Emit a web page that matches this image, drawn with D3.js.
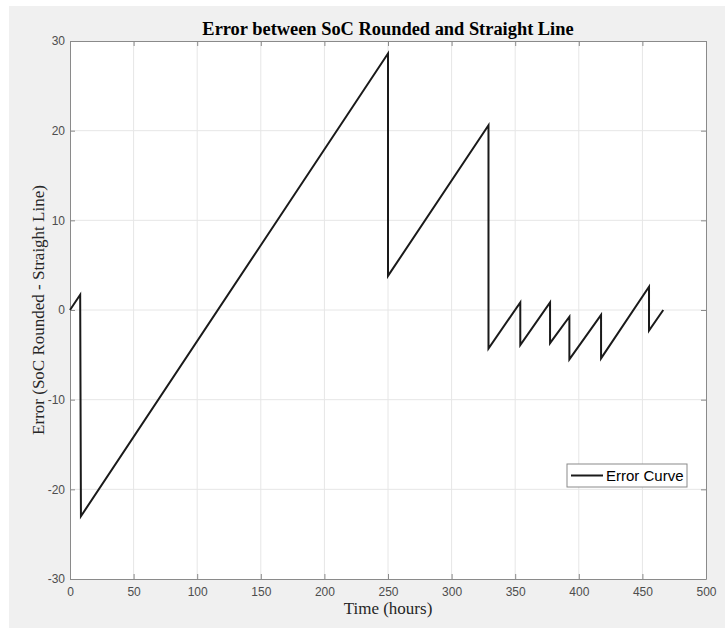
<!DOCTYPE html>
<html>
<head>
<meta charset="utf-8">
<script src="https://cdn.jsdelivr.net/npm/d3@7"></script>
<style>
  body { margin: 0; background: #fff; }
  svg { display: block; }
</style>
</head>
<body>
<svg id="chart"></svg>
<script>
// error curve vertices (time in hours, error)
const timeHours = [0, 8, 8.6, 250, 250, 329, 329, 354, 354, 377.4, 377.4, 392.6, 392.6, 417.5, 417.5, 455.2, 455.2, 466.4];
const errorVals = [0, 1.7, -23, 28.6, 3.8, 20.6, -4.3, 0.85, -3.9, 0.85, -3.7, -0.75, -5.5, -0.55, -5.4, 2.6, -2.3, 0];
const xTicks = [0, 50, 100, 150, 200, 250, 300, 350, 400, 450, 500];
const yTicks = [-30, -20, -10, 0, 10, 20, 30];

const points = timeHours.map((t, i) => ({ t: t, v: errorVals[i] }));

const w = 725, h = 629;
const margin = { top: 41, right: 19, bottom: 50, left: 70 };

const svg = d3.select("#chart").attr("width", w).attr("height", h);

// figure background
svg.append("rect")
    .attr("x", 9).attr("y", 6)
    .attr("width", w - 9).attr("height", 622)
    .attr("fill", "#f0f0f0");

const xScale = d3.scaleLinear().domain([0, 500]).range([margin.left, w - margin.right]);
const yScale = d3.scaleLinear().domain([-30, 30]).range([h - margin.bottom, margin.top]);

const plotW = xScale(500) - xScale(0);
const plotH = yScale(-30) - yScale(30);

svg.append("rect")
    .attr("x", xScale(0)).attr("y", yScale(30))
    .attr("width", plotW).attr("height", plotH)
    .attr("fill", "#fff");

// grid
const grid = svg.append("g");
grid.selectAll("line.gx")
    .data(xTicks.slice(1, -1))
    .join("line")
    .attr("x1", d => xScale(d)).attr("x2", d => xScale(d))
    .attr("y1", yScale(30)).attr("y2", yScale(-30))
    .attr("stroke", "#e6e6e6").attr("stroke-width", 1);
grid.selectAll("line.gy")
    .data(yTicks.slice(1, -1))
    .join("line")
    .attr("y1", d => yScale(d)).attr("y2", d => yScale(d))
    .attr("x1", xScale(0)).attr("x2", xScale(500))
    .attr("stroke", "#e6e6e6").attr("stroke-width", 1);

// axes (plain hyphen minus like the original)
const fmt = d => String(d);
const tickStyle = g => g
    .call(g => g.select(".domain").attr("stroke", "#8a8a8a"))
    .call(g => g.selectAll(".tick line").attr("stroke", "#8a8a8a"))
    .call(g => g.selectAll(".tick text")
        .attr("fill", "#4d4d4d")
        .style("font-family", "'Liberation Sans', Arial, sans-serif")
        .style("font-size", "12px"));

svg.append("g")
    .attr("transform", `translate(0,${yScale(-30)})`)
    .call(d3.axisBottom(xScale).tickValues(xTicks).tickSizeInner(-5).tickSizeOuter(0).tickPadding(8).tickFormat(fmt))
    .call(tickStyle);

svg.append("g")
    .attr("transform", `translate(0,${yScale(30)})`)
    .call(d3.axisTop(xScale).tickValues(xTicks).tickSizeInner(-5).tickSizeOuter(0).tickFormat(""))
    .call(tickStyle);

svg.append("g")
    .attr("transform", `translate(${xScale(0)},0)`)
    .call(d3.axisLeft(yScale).tickValues(yTicks).tickSizeInner(-5).tickSizeOuter(0).tickPadding(5).tickFormat(fmt))
    .call(tickStyle);

svg.append("g")
    .attr("transform", `translate(${xScale(500)},0)`)
    .call(d3.axisRight(yScale).tickValues(yTicks).tickSizeInner(-5).tickSizeOuter(0).tickFormat(""))
    .call(tickStyle);

// curve
const line = d3.line()
    .x(d => xScale(d.t))
    .y(d => yScale(d.v));

svg.append("path")
    .datum(points)
    .attr("d", line)
    .attr("fill", "none")
    .attr("stroke", "#1a1a1a")
    .attr("stroke-width", 2)
    .attr("stroke-linejoin", "miter");

// title and labels
svg.append("text")
    .attr("x", (xScale(0) + xScale(500)) / 2)
    .attr("y", 35)
    .attr("text-anchor", "middle")
    .style("font-family", "'Liberation Serif', 'Times New Roman', serif")
    .style("font-weight", "bold")
    .style("font-size", "18.4px")
    .attr("fill", "#000")
    .text("Error between SoC Rounded and Straight Line");

svg.append("text")
    .attr("x", (xScale(0) + xScale(500)) / 2)
    .attr("y", 614)
    .attr("text-anchor", "middle")
    .style("font-family", "'Liberation Serif', 'Times New Roman', serif")
    .style("font-size", "17px")
    .attr("fill", "#262626")
    .text("Time (hours)");

svg.append("text")
    .attr("transform", `translate(44,${(yScale(30) + yScale(-30)) / 2}) rotate(-90)`)
    .attr("text-anchor", "middle")
    .style("font-family", "'Liberation Serif', 'Times New Roman', serif")
    .style("font-size", "17px")
    .attr("fill", "#262626")
    .text("Error (SoC Rounded - Straight Line)");

// legend
const legend = svg.append("g").attr("transform", "translate(567,464)");
legend.append("rect")
    .attr("width", 120).attr("height", 23)
    .attr("fill", "#fff")
    .attr("stroke", "#8a8a8a");
legend.append("line")
    .attr("x1", 4).attr("x2", 36)
    .attr("y1", 11.5).attr("y2", 11.5)
    .attr("stroke", "#1a1a1a").attr("stroke-width", 2);
legend.append("text")
    .attr("x", 39).attr("y", 17)
    .style("font-family", "'Liberation Sans', Arial, sans-serif")
    .style("font-size", "15px")
    .attr("fill", "#000")
    .text("Error Curve");
</script>
</body>
</html>
